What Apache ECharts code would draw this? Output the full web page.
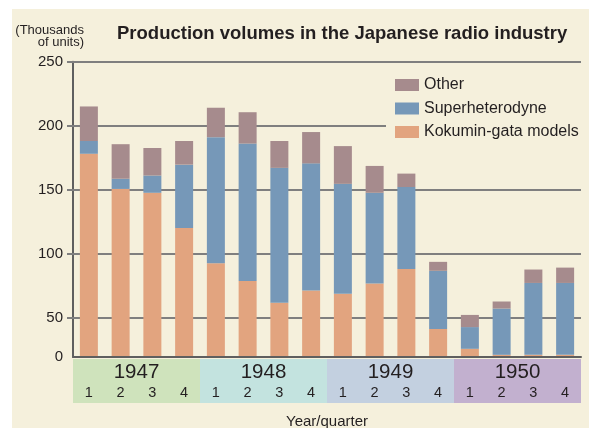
<!DOCTYPE html>
<html><head><meta charset="utf-8">
<script src="https://cdn.jsdelivr.net/npm/echarts@6/dist/echarts.min.js"></script>
<style>html,body{margin:0;padding:0;background:#ffffff}#c{width:589px;height:428px}</style>
</head><body><div id="c"></div>
<script>
const quarters = ['1','2','3','4','1','2','3','4','1','2','3','4','1','2','3','4'];
const years = ['1947','1948','1949','1950'];
const kokumin  = [178, 150.5, 147.5, 120, 92.5, 78.5, 61.5, 71, 68.5, 76.5, 88, 41, 25.5, 20.8, 20.8, 20.8];
const superhet = [10, 8, 13.5, 49.5, 98.5, 107.5, 105.5, 99.5, 86, 71, 64, 45.5, 17, 36.2, 56.2, 56.2];
const other    = [27, 27, 21.5, 18.5, 23, 24.5, 21, 24.5, 29.5, 21, 10.5, 7, 9.5, 5.5, 10.5, 12];
const yTicks = [50, 100, 150, 200, 250];
const yearBand = [1, 1, 1, 1];
const seriesNames = ['Kokumin-gata models', 'Superheterodyne', 'Other'];

const F = "'Liberation Sans', Arial, Helvetica, sans-serif";
const TXT = '#231f20';
const BG = '#f5f0dc';
const GRIDC = '#7f7f7f';
const AXISC = '#5f5f5f';
const bandColors = ['#cfe3bc', '#c3e3df', '#c3d0e0', '#c2b0cf'];
const barColors = ['#e2a47f', '#7698b8', '#a68b8d'];
const yMin = 19.1;

const chart = echarts.init(document.getElementById('c'), null, {renderer: 'canvas'});
const barSeries = [kokumin, superhet, other].map((arr, i) => ({
  name: seriesNames[i],
  type: 'bar',
  stack: 'total',
  xAxisIndex: 0, yAxisIndex: 0,
  barWidth: 18,
  clip: true,
  silent: true,
  itemStyle: {color: barColors[i]},
  data: arr,
  z: 2
}));
barSeries[0].markLine = {
  silent: true, symbol: 'none', z: 1, animation: false,
  label: {show: false},
  lineStyle: {color: GRIDC, width: 2, type: 'solid'},
  data: yTicks.map(v => ({yAxis: v}))
};

const option = {
  backgroundColor: '#ffffff',
  animation: false,
  textStyle: {fontFamily: F},
  title: {
    text: 'Production volumes in the Japanese radio industry',
    left: 117, top: 24, padding: 0,
    textStyle: {fontSize: 18.5, fontWeight: 'bold', color: TXT, fontFamily: F}
  },
  graphic: [
    {type: 'rect', z: -100, silent: true, shape: {x: 12, y: 9, width: 577, height: 419}, style: {fill: BG}},
    {type: 'text', x: 84, y: 25,
     style: {text: '(Thousands\nof units)', align: 'right', verticalAlign: 'top',
       font: '13px ' + F, lineHeight: 11.7, fill: TXT}}
  ],
  legend: {
    orient: 'vertical', left: 386, top: 70, padding: [7, 3, 7, 9],
    backgroundColor: BG, itemWidth: 24, itemHeight: 12, itemGap: 7.5,
    icon: 'rect', selectedMode: false,
    data: ['Other', 'Superheterodyne', 'Kokumin-gata models'],
    textStyle: {fontSize: 16, color: TXT, fontFamily: F}
  },
  grid: [
    {left: 73, right: 8, top: 61.7, bottom: 71, outerBoundsMode: 'none', containLabel: false},
    {left: 73, right: 8, top: 359, height: 44, outerBoundsMode: 'none', containLabel: false}
  ],
  xAxis: [
    {
      type: 'category', gridIndex: 0, data: quarters, z: 5,
      axisLine: {lineStyle: {color: AXISC, width: 2}},
      axisTick: {inside: true, length: 7, interval: 0, lineStyle: {color: GRIDC, width: 2}},
      axisLabel: {interval: 0, margin: 28, fontSize: 14.5, color: TXT, fontFamily: F},
      name: 'Year/quarter', nameLocation: 'middle', nameGap: 57,
      nameTextStyle: {fontSize: 15, color: TXT, fontFamily: F}
    },
    {type: 'category', gridIndex: 1, data: years, show: false}
  ],
  yAxis: [
    {
      type: 'value', gridIndex: 0, min: yMin, max: 250,
      axisLine: {show: true, lineStyle: {color: AXISC, width: 2}},
      axisTick: {show: true, length: 6, customValues: yTicks, lineStyle: {color: GRIDC, width: 2}},
      axisLabel: {customValues: [yMin].concat(yTicks), formatter: v => (v < 50 ? '0' : String(v)),
        fontSize: 15, color: TXT, margin: 10, fontFamily: F, verticalAlign: 'middle', padding: [4, 0, 0, 0]},
      splitLine: {show: false}
    },
    {type: 'value', gridIndex: 1, min: 0, max: 1, show: false}
  ],
  series: barSeries.concat([{
    type: 'bar', xAxisIndex: 1, yAxisIndex: 1, silent: true,
    barWidth: '100%',
    data: years.map((y, i) => ({value: yearBand[i], itemStyle: {color: bandColors[i]}})),
    label: {show: true, position: 'insideTop', distance: 3, formatter: '{b}', fontSize: 20.5, color: TXT, fontFamily: F}
  }])
};
chart.setOption(option);
</script></body></html>
